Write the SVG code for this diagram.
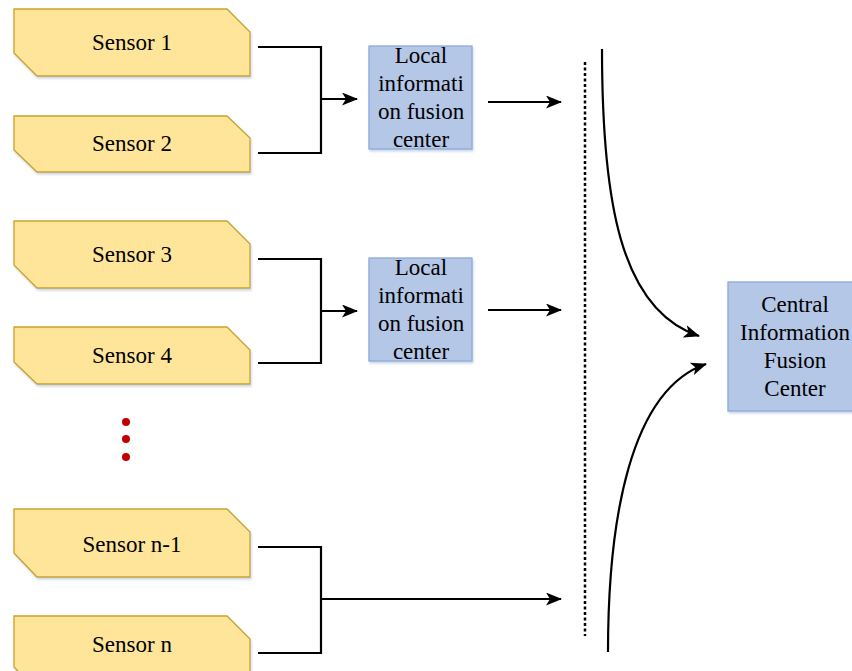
<svg xmlns="http://www.w3.org/2000/svg" width="852" height="671" viewBox="0 0 852 671">
<defs>
<style>
.sensor{fill:#FFE599;stroke:#C9A227;stroke-width:1.3}
.box{fill:#B4C7E7;stroke:#8EAADB;stroke-width:1.3}
.t{font-family:"Liberation Serif","Times New Roman",serif;font-size:23px;fill:#000;text-anchor:middle}
.ln{fill:none;stroke:#000;stroke-width:2.2}
</style>
<marker id="ah" viewBox="0 0 16 13" refX="15" refY="6.5" markerWidth="16" markerHeight="13" markerUnits="userSpaceOnUse" orient="auto">
<path d="M0,0 L16,6.5 L0,13 L4,6.5 Z" fill="#000"/>
</marker>
<filter id="sh" x="-5%" y="-5%" width="112%" height="115%">
<feDropShadow dx="1" dy="2" stdDeviation="1.2" flood-color="#8EA9C8" flood-opacity="0.45"/>
</filter>
</defs>
<rect width="852" height="671" fill="#fff"/>

<g id="sensor1"><path class="sensor" filter="url(#sh)" d="M14,9 H227 L250,32 V76 H37 L14,53 Z"/><text class="t" x="132" y="50">Sensor 1</text></g>
<g id="sensor2"><path class="sensor" filter="url(#sh)" d="M14,116 H227 L250,138 V172 H37 L14,150 Z"/><text class="t" x="132" y="151">Sensor 2</text></g>
<g id="sensor3"><path class="sensor" filter="url(#sh)" d="M14,221 H227 L250,244 V288 H37 L14,265 Z"/><text class="t" x="132" y="262">Sensor 3</text></g>
<g id="sensor4"><path class="sensor" filter="url(#sh)" d="M14,327 H227 L250,350 V384 H37 L14,362 Z"/><text class="t" x="132" y="363">Sensor 4</text></g>
<g id="sensor-n-1"><path class="sensor" filter="url(#sh)" d="M14,509 H227 L250,532 V577 H37 L14,553 Z"/><text class="t" x="132" y="552">Sensor n-1</text></g>
<g id="sensor-n"><path class="sensor" filter="url(#sh)" d="M14,616 H227 L250,639 V690 H37 L14,667 Z"/><text class="t" x="132" y="652">Sensor n</text></g>

<g id="dots" fill="#C00000"><circle cx="126" cy="422" r="4"/><circle cx="126" cy="439" r="4"/><circle cx="126" cy="457" r="4"/></g>

<g id="local1"><rect class="box" filter="url(#sh)" x="369" y="46" width="103" height="103"/>
<text class="t" x="421" y="63">Local</text><text class="t" x="421" y="91">informati</text><text class="t" x="421" y="119">on fusion</text><text class="t" x="421" y="147">center</text></g>
<g id="local2"><rect class="box" filter="url(#sh)" x="369" y="258" width="103" height="103"/>
<text class="t" x="421" y="275">Local</text><text class="t" x="421" y="303">informati</text><text class="t" x="421" y="331">on fusion</text><text class="t" x="421" y="359">center</text></g>

<g id="central"><rect class="box" filter="url(#sh)" x="728" y="282" width="134" height="129"/>
<text class="t" x="795" y="312">Central</text><text class="t" x="795" y="340">Information</text><text class="t" x="795" y="368">Fusion</text><text class="t" x="795" y="396">Center</text></g>

<g id="connectors">
<path class="ln" d="M258,47 H321 V153 H258"/>
<path class="ln" d="M321,99 H357" marker-end="url(#ah)"/>
<path class="ln" d="M488,102 H561" marker-end="url(#ah)"/>
<path class="ln" d="M258,259 H321 V363 H258"/>
<path class="ln" d="M321,311 H357" marker-end="url(#ah)"/>
<path class="ln" d="M488,310 H561" marker-end="url(#ah)"/>
<path class="ln" d="M258,547 H321 V653 H258"/>
<path class="ln" d="M321,599 H561" marker-end="url(#ah)"/>
<path d="M585,62 V636" fill="none" stroke="#000" stroke-width="2.5" stroke-dasharray="3,2.5"/>
<path class="ln" d="M602,49 C602,200 620,310 699,336" marker-end="url(#ah)"/>
<path class="ln" d="M608,652 C608,520 630,390 706,364" marker-end="url(#ah)"/>
</g>
</svg>
